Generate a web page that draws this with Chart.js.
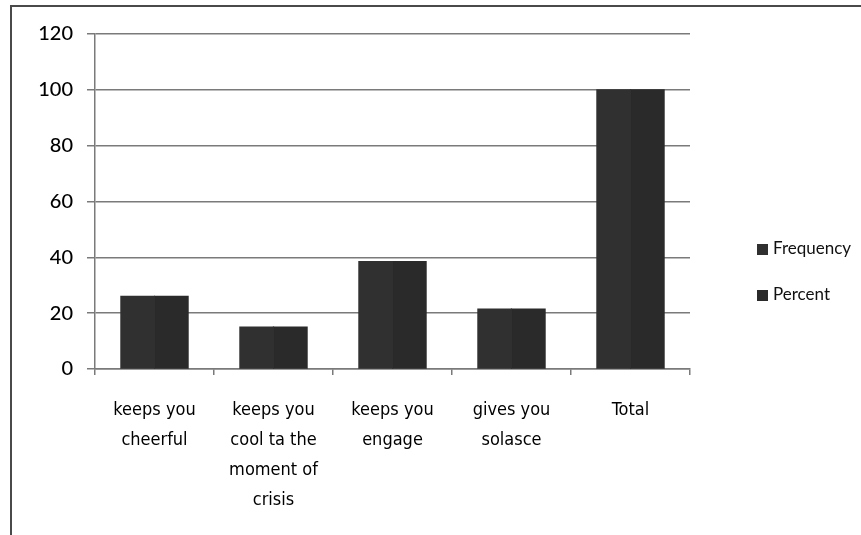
<!DOCTYPE html>
<html>
<head>
<meta charset="utf-8">
<script src="https://cdn.jsdelivr.net/npm/chart.js@4.4.0/dist/chart.umd.min.js"></script>
<style>
    body { margin: 0; background: #fff; }
    #wrap { position: relative; width: 861px; height: 535px; overflow: hidden; }
    #frame { position: absolute; left: 10px; top: 5px; width: 900px; height: 600px;
             border-left: 2.5px solid #4a4a4a; border-top: 2.5px solid #4a4a4a; }
    #legend { position: absolute; left: 757px; top: 237px; font-family: Lato, sans-serif;
              font-size: 17px; color: #111; }
    .item { height: 46px; display: flex; align-items: flex-start; }
    .box { width: 11px; height: 11px; margin-top: 7px; margin-right: 5px; }
</style>
</head>
<body>
<div id="wrap">
    <div id="frame"></div>
    <canvas id="chart_1" width="861" height="535"></canvas>
    <div id="legend"></div>
</div>
<script>
// dados
const categorias = [
    ['keeps you', 'cheerful'],
    ['keeps you', 'cool ta the', 'moment of', 'crisis'],
    ['keeps you', 'engage'],
    ['gives you', 'solasce'],
    'Total'
];
const frequencia = [26, 15, 38.5, 21.5, 100];
const percentual = [26, 15, 38.5, 21.5, 100];
const ticksY = [0, 20, 40, 60, 80, 100, 120];

const nomes = ['Frequency', 'Percent'];
const cores = ['#303030', '#2a2a2a'];

const ctx = document.getElementById('chart_1').getContext('2d');
const chart1 = new Chart(ctx, {
    type: 'bar',
    data: {
        labels: categorias,
        datasets: [{
            label: nomes[0],
            data: frequencia,
            backgroundColor: cores[0],
            borderWidth: 0,
            inflateAmount: 0.6,
            barPercentage: 1,
            categoryPercentage: 0.565
        }, {
            label: nomes[1],
            data: percentual,
            backgroundColor: cores[1],
            borderWidth: 0,
            inflateAmount: 0.6,
            barPercentage: 1,
            categoryPercentage: 0.565
        }]
    },
    options: {
        responsive: false,
        animation: false,
        layout: { padding: { top: 34, right: 171, bottom: 0, left: 0 } },
        plugins: {
            legend: { display: false },
            tooltip: { enabled: false }
        },
        scales: {
            y: {
                min: 0,
                max: 120,
                afterBuildTicks: (s) => { s.ticks = ticksY.map(v => ({ value: v })); },
                afterFit: (s) => { s.width = 95; },
                grid: { color: '#7a7a7a', lineWidth: 1.5, tickLength: 8 },
                border: { color: '#7a7a7a', width: 1.5 },
                ticks: { color: '#000', padding: 14, font: { family: 'Lato', size: 20, weight: '500' } }
            },
            x: {
                afterFit: (s) => { s.height = 166; },
                grid: { drawOnChartArea: false, color: '#7a7a7a', lineWidth: 1.5, tickLength: 6 },
                border: { color: '#7a7a7a', width: 1.5 },
                ticks: {
                    color: '#000', padding: 20, maxRotation: 0, autoSkip: false,
                    font: { family: "'Liberation Sans Narrow', 'DejaVu Sans Condensed', Lato", size: 18, lineHeight: 1.67 }
                }
            }
        }
    }
});

// legenda
const legenda = document.getElementById('legend');
nomes.forEach((n, i) => {
    legenda.innerHTML += '<div class="item"><div class="box" style="background:' + cores[i] + '"></div>' + n + '</div>';
});
</script>
</body>
</html>
